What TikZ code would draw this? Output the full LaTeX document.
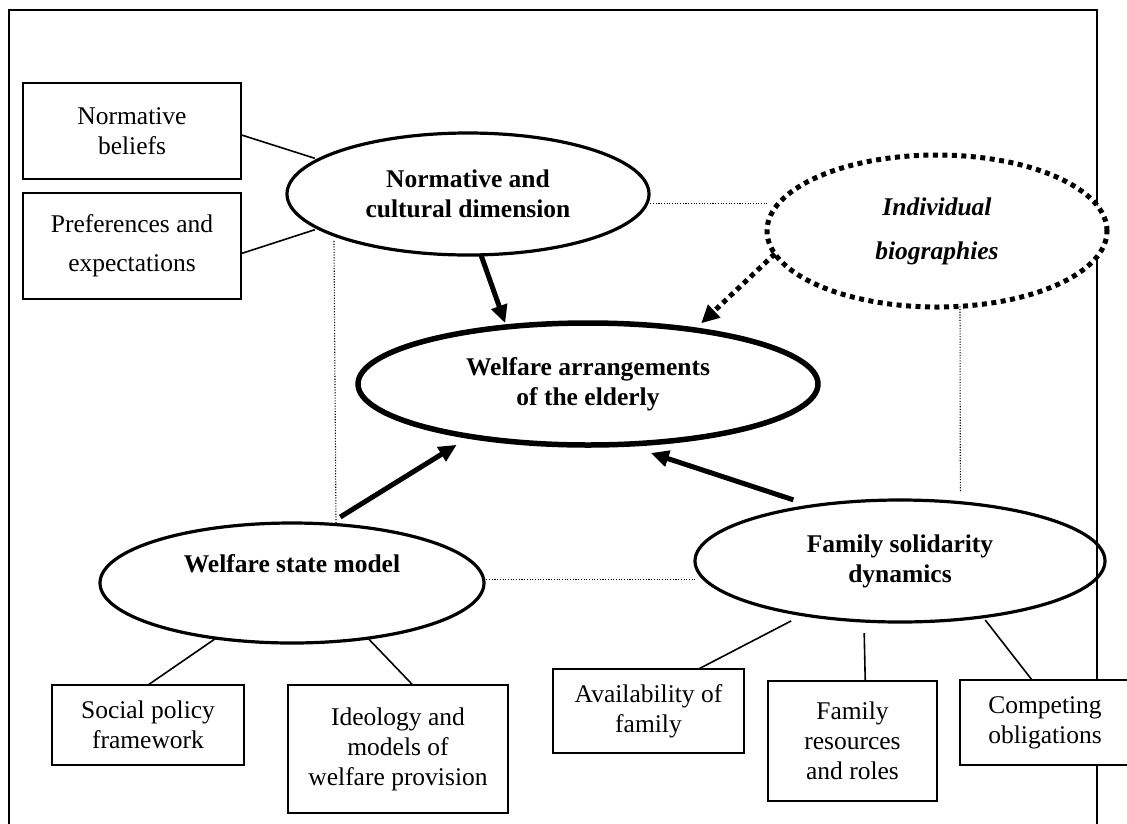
\documentclass[tikz,border=0pt]{standalone}
\usepackage{fontspec}
\setmainfont{Liberation Serif}
\usetikzlibrary{shapes.geometric,arrows.meta}
\begin{document}
\begin{tikzpicture}[x=1pt,y=-1pt,
  every node/.style={inner sep=0pt, outer sep=0pt, align=center, font=\fontsize{25.5}{30}\selectfont},
  box/.style={draw, fill=white, line width=2pt},
  ell/.style={draw, ellipse, line width=3.2pt, font=\fontsize{25.5}{30}\selectfont\bfseries},
  thinline/.style={line width=1.6pt},
  dotline/.style={line width=1.1pt, dash pattern=on 1.1pt off 1.6pt},
  bigarrow/.style={line width=5pt, -{Triangle[length=18pt,width=16pt]}},
  dotarrow/.style={line width=5pt, dash pattern=on 5pt off 4.5pt, -{Triangle[length=18pt,width=17pt]}},
]
\useasboundingbox (0,0) rectangle (1127,823);
\clip (0,0) rectangle (1127,823);
\fill[white] (0,0) rectangle (1127,823);

% frame
\draw[line width=2.4pt] (9,830) -- (9,10) -- (1097,10) -- (1097,830);

% boxes
\node[box, minimum width=218pt, minimum height=96pt] (nb) at (132,131) {Normative\\beliefs};
\node[box, minimum width=218pt, minimum height=106pt] (pe) at (132,246) {Preferences and\\[9pt]expectations};
\node[box, minimum width=192pt, minimum height=80pt] (sp) at (148,725) {Social policy\\framework};
\node[box, minimum width=220pt, minimum height=128pt] (id) at (398,749) {Ideology and\\models of\\welfare provision};
\node[box, minimum width=191pt, minimum height=84pt] (av) at (648.5,711) {Availability of\\family};
\node[box, minimum width=169pt, minimum height=120pt] (fr) at (852.5,741) {Family\\resources\\and roles};
\node[box, minimum width=170pt, minimum height=85pt] (co) at (1045,722.5) {Competing\\obligations};

% ellipses
\node[ell, fill=white, minimum width=362pt, minimum height=122pt] (nm) at (468,194) {Normative and\\cultural dimension};
\node[ell, fill=white, line width=5pt, dash pattern=on 5pt off 4.5pt, minimum width=340pt, minimum height=152pt, font=\fontsize{25.5}{30}\selectfont\bfseries\itshape] (ib) at (937,231) {Individual\\[14pt]biographies};
\node[ell, fill=white, line width=5.5pt, minimum width=460pt, minimum height=122pt] (wa) at (588,384) {Welfare arrangements\\of the elderly};
\node[ell, fill=white, minimum width=384pt, minimum height=120pt] (ws) at (292,583) {Welfare state model\\\strut};
\node[ell, minimum width=410pt, minimum height=122pt] (fs) at (900,561) {Family solidarity\\dynamics};

% thin connectors
\draw[thinline, shorten >=4pt] (nb.-2) -- (nm.167.3);
\draw[thinline, shorten >=4pt] (pe.-4.7) -- (nm.193.1);
\draw[thinline] (sp.north) -- (ws.216.3);
\draw[thinline] (id.77.7) -- (ws.-36.3);
\draw[thinline, shorten >=13.4pt] (av.40.9) -- (fs.209.6);
\draw[thinline, shorten >=12pt] (fr.78.2) -- (fs.239.8);
\draw[thinline, shorten >=4pt] (co.107) -- (fs.-34.4);

% dotted connectors
\draw[dotline, shorten <=3.5pt] (nm.-3.2) -- (nm.-3.2 -| ib.west);
\draw[dotline, shorten <=6pt] (nm.197.5) -- (ws.53);
\draw[dotline] (ws.1) -- (ws.1 -| fs.west);
\draw[dotline, shorten >=10pt] (ib.-73) -- (fs.44.2);

% arrows
\draw[bigarrow, shorten >=4pt] (nm.-78) -- (wa.145.4);
\draw[bigarrow, shorten <=13.5pt, shorten >=16pt] (ws.58.3) -- (wa.204.4);
\draw[bigarrow, shorten <=19.5pt, shorten >=28pt] (fs.148.5) -- (wa.-59.5);
\draw[dotarrow, shorten >=9.6pt] (ib.188) -- (wa.27.9);
\end{tikzpicture}
\end{document}
